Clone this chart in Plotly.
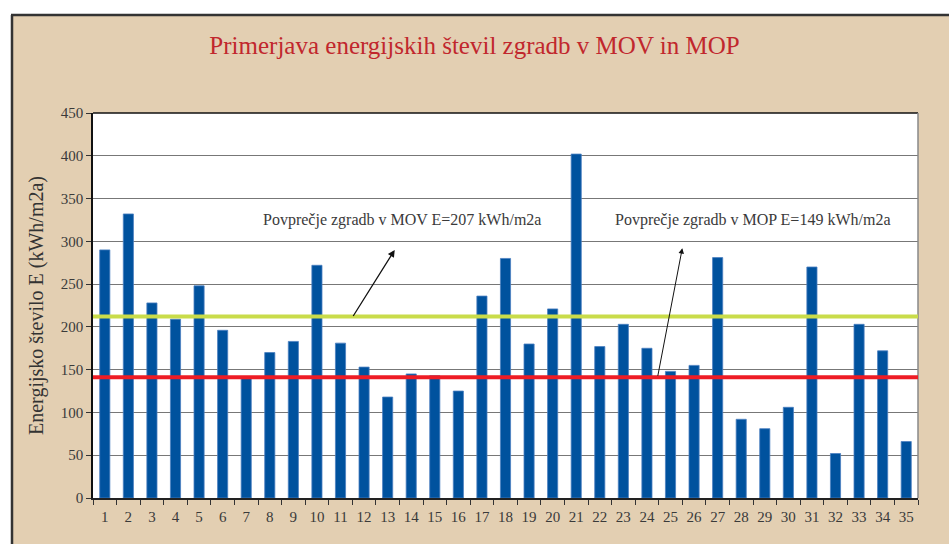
import plotly.graph_objects as go

# ---- data ----
categories = [str(i) for i in range(1, 36)]
energy_values = [290, 332, 228, 209, 248, 196, 141, 170, 183, 272,
                 181, 153, 118, 145, 143, 125, 236, 280, 180, 221,
                 402, 177, 203, 175, 148, 155, 281, 92, 81, 106,
                 270, 52, 203, 172, 66]
mov_line_value = 212
mop_line_value = 141
y_tick_values = [0, 50, 100, 150, 200, 250, 300, 350, 400, 450]

title_text = "Primerjava energijskih števil zgradb v MOV in MOP"
y_title_text = "Energijsko število E (kWh/m2a)"
mov_label = "Povprečje zgradb v MOV E=207 kWh/m2a"
mop_label = "Povprečje zgradb v MOP E=149 kWh/m2a"

# annotation anchor points (category index, value)
mov_text_pos = (12.6, 325)
mop_text_pos = (27.46, 325)
mov_arrow_head = (12.3, 290)
mov_arrow_tail = (10.5, 211)
mop_arrow_head = (24.5, 292)
mop_arrow_tail = (23.45, 141)

BG = "#e3cfb2"
serif = "Liberation Serif, Times New Roman, serif"

fig = go.Figure()
fig.add_trace(go.Bar(
    x=categories, y=energy_values,
    marker=dict(color="#00529e", line=dict(color="#4a7fc0", width=0.8)),
    width=0.43,
))

fig.update_layout(
    width=949, height=544,
    paper_bgcolor=BG, plot_bgcolor="white",
    margin=dict(l=93, r=31, t=113, b=46, autoexpand=False),
    showlegend=False,
    font=dict(family=serif, color="#3a3a3a"),
    title=dict(text=title_text, x=0.5, xanchor="center", y=0.917, yanchor="middle",
               font=dict(family=serif, size=25, color="#c1272d")),
)

fig.update_xaxes(
    type="category", range=[-0.5, 34.5], automargin=False,
    showline=True, linecolor="#222", linewidth=1.5, mirror=False,
    ticks="outside", tickson="boundaries", ticklen=5, tickcolor="#333",
    tickangle=0, ticklabelstandoff=4,
    tickfont=dict(size=15, color="#3a3a3a"), showgrid=False,
)
fig.update_yaxes(
    range=[0, 450], tickvals=y_tick_values, automargin=False,
    showline=True, linecolor="#111", linewidth=1.5,
    ticks="outside", ticklen=5, tickcolor="#333",
    tickfont=dict(size=15, color="#3a3a3a"),
    showgrid=True, gridcolor="#777", gridwidth=1.4,
    zeroline=False,
    title=dict(text=y_title_text, font=dict(size=20, color="#333333"), standoff=12),
)

# top border and right border of plot area
fig.add_shape(type="line", xref="paper", yref="paper", x0=0, x1=1, y0=1, y1=1,
              line=dict(color="#111", width=1.5))
fig.add_shape(type="line", xref="paper", yref="paper", x0=1, x1=1, y0=0, y1=1,
              line=dict(color="#888", width=1.5))

# average lines
fig.add_shape(type="line", xref="paper", yref="y", x0=0, x1=1,
              y0=mov_line_value, y1=mov_line_value,
              line=dict(color="#c9dc4a", width=4))
fig.add_shape(type="line", xref="paper", yref="y", x0=0, x1=1,
              y0=mop_line_value, y1=mop_line_value,
              line=dict(color="#ee1c25", width=4))

# outer frame (screen coords -> paper coords; plot area at x 93..918, y 113..498)
def px_x(px):
    return (px - 93) / 825.0

def px_y(py):
    return (498 - py) / 385.0

fig.add_shape(type="rect", xref="paper", yref="paper",
              x0=px_x(-10), x1=px_x(970), y0=px_y(14), y1=px_y(-10),
              fillcolor="white", line=dict(width=0))
fig.add_shape(type="rect", xref="paper", yref="paper",
              x0=px_x(-10), x1=px_x(11), y0=px_y(570), y1=px_y(-10),
              fillcolor="white", line=dict(width=0))
fig.add_shape(type="line", xref="paper", yref="paper",
              x0=px_x(11), x1=px_x(970), y0=px_y(15), y1=px_y(15),
              line=dict(color="#333", width=2.5))
fig.add_shape(type="line", xref="paper", yref="paper",
              x0=px_x(12), x1=px_x(12), y0=px_y(15), y1=px_y(570),
              line=dict(color="#333", width=2.5))

# labels
fig.add_annotation(x=mov_text_pos[0], y=mov_text_pos[1], xref="x", yref="y",
                   text=mov_label, showarrow=False,
                   font=dict(family=serif, size=16, color="#3a3a3a"))
fig.add_annotation(x=mop_text_pos[0], y=mop_text_pos[1], xref="x", yref="y",
                   text=mop_label, showarrow=False,
                   font=dict(family=serif, size=16, color="#3a3a3a"))

# arrows
for head, tail, w in [(mov_arrow_head, mov_arrow_tail, 1.3), (mop_arrow_head, mop_arrow_tail, 1.0)]:
    fig.add_annotation(x=head[0], y=head[1], ax=tail[0], ay=tail[1],
                       xref="x", yref="y", axref="x", ayref="y",
                       text="", showarrow=True, arrowhead=2, arrowsize=1.1,
                       arrowwidth=w, arrowcolor="#111")

fig.write_html(
    "out.html",
    config={"displayModeBar": False},
    post_script="document.body.style.margin='0';document.body.style.overflow='hidden';",
)
